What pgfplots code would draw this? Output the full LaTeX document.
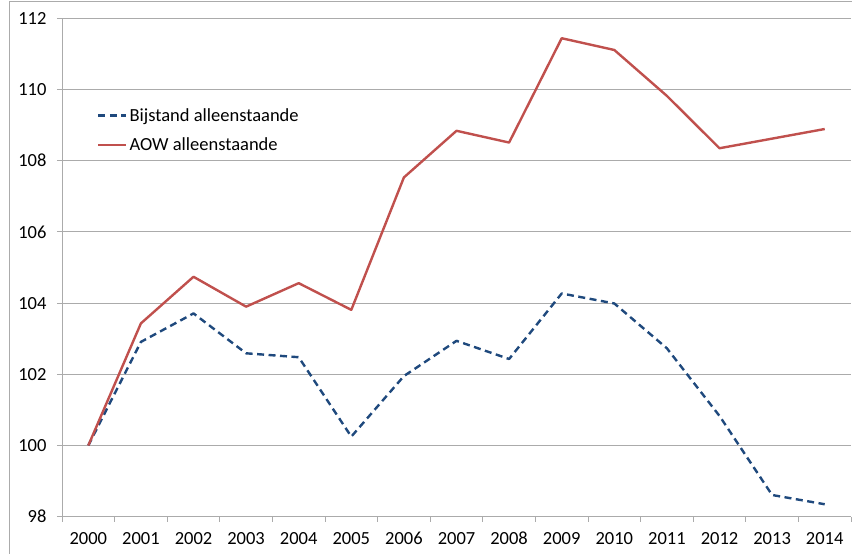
\documentclass[border=0pt]{standalone}
\usepackage{pgfplots}
\pgfplotsset{compat=1.18}
\usepackage{fontspec}
\setmainfont{Carlito}

\definecolor{bijblue}{HTML}{1F497D}
\definecolor{aowred}{HTML}{C0504D}
\definecolor{gridgray}{HTML}{ABABAB}

\begin{document}
\begin{tikzpicture}[x=1bp,y=1bp]
\path[use as bounding box] (0,0) rectangle (852,-554);
% outer chart frame (cropped at right and bottom)
\draw[gridgray, line width=1bp] (9,-554) -- (9,-2) -- (852,-2);
\begin{axis}[
    at={(62bp,-516.7bp)}, anchor=south west,
    scale only axis, width=789bp, height=498.4bp,
    xmin=-0.5, xmax=14.5,
    ymin=98, ymax=112,
    ytick={98,100,...,112},
    xtick={-0.5,0.5,...,14.5},
    x tick label as interval,
    xticklabels={2000,2001,2002,2003,2004,2005,2006,2007,2008,2009,2010,2011,2012,2013,2014},
    axis x line*=bottom, axis y line*=left,
    axis line style={gridgray, line width=1bp, -},
    tick align=outside, major tick length=5bp,
    tick style={gridgray, line width=1bp},
    ymajorgrids=true,
    grid style={gridgray, line width=1bp},
    tick label style={font=\fontsize{18.5bp}{21bp}\selectfont},
    /pgf/number format/assume math mode=true,
    yticklabel style={xshift=-7bp},
    xticklabel style={yshift=-7bp},
    legend cell align=left,
    legend style={draw=none, fill=none, inner sep=0pt,
        at={(0.0444,0.824)}, anchor=north west,
        font=\fontsize{18.5bp}{21bp}\selectfont, row sep=11bp},
    legend image code/.code={\draw[#1] (0bp,0bp) -- (28bp,0bp);},
]
% Bijstand alleenstaande
\addplot[bijblue, line width=2.4bp, dash pattern=on 7bp off 4.5bp, line join=round] coordinates {
    (0,100) (1,102.91) (2,103.71) (3,102.59) (4,102.48)
    (5,100.25) (6,101.95) (7,102.94) (8,102.43) (9,104.27)
    (10,103.99) (11,102.73) (12,100.83) (13,98.61) (14,98.35)
};
\addlegendentry{Bijstand alleenstaande}

% AOW alleenstaande
\addplot[aowred, line width=2.4bp, line join=round] coordinates {
    (0,100) (1,103.43) (2,104.74) (3,103.90) (4,104.56)
    (5,103.81) (6,107.53) (7,108.84) (8,108.51) (9,111.44)
    (10,111.11) (11,109.82) (12,108.35) (13,108.62) (14,108.89)
};
\addlegendentry{AOW alleenstaande}

\end{axis}
\end{tikzpicture}
\end{document}
